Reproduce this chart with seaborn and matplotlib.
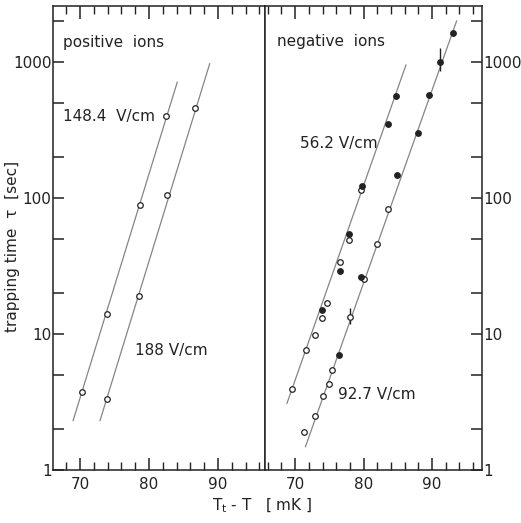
import matplotlib
matplotlib.use("Agg")
import matplotlib.pyplot as plt
import matplotlib.ticker as mticker
import seaborn as sns
import pandas as pd

# ---- data ----
pos148_x = [70.3, 73.9, 78.7, 82.5]
pos148_y = [3.75, 14.0, 89.0, 400.0]
pos148_fit_x = [69.0, 84.1]
pos148_fit_y = [2.3, 710.0]

pos188_x = [73.9, 78.6, 82.6, 86.6]
pos188_y = [3.3, 19.0, 105.0, 460.0]
pos188_fit_x = [72.9, 88.8]
pos188_fit_y = [2.3, 970.0]

neg56_open_x = [69.6, 71.6, 72.9, 73.9, 74.6, 76.6, 77.8, 79.6]
neg56_open_y = [3.96, 7.6, 9.8, 13.1, 16.9, 34.0, 49.0, 114.0]
neg56_fill_x = [73.9, 76.6, 77.8, 79.7, 83.5, 84.7]
neg56_fill_y = [14.9, 29.0, 54.0, 122.0, 350.0, 556.0]
neg56_fit_x = [68.8, 86.2]
neg56_fit_y = [3.08, 950.0]

neg92_open_x = [71.3, 72.9, 74.0, 74.9, 75.4, 78.0, 80.0, 81.9, 83.5]
neg92_open_y = [1.9, 2.5, 3.5, 4.26, 5.4, 13.3, 25.5, 46.0, 83.0]
neg92_fill_x = [76.4, 79.6, 84.9, 87.9, 89.5, 91.1, 93.0]
neg92_fill_y = [7.0, 26.0, 147.0, 302.0, 572.0, 1000.0, 1640.0]
neg92_fit_x = [71.5, 93.6]
neg92_fit_y = [1.48, 2000.0]

err_x = [78.0, 91.1]
err_lo = [11.9, 850.0]
err_hi = [15.6, 1260.0]

y_ticks = [1, 10, 100, 1000]
y_ticklabels = ["1", "10", "100", "1000"]
x_ticks = [70, 80, 90]
x_ticklabels = ["70", "80", "90"]

# ---- styling ----
sns.set_style("ticks")
plt.rcParams['font.family'] = ['DejaVu Sans']
INK = "#222222"
LINE = "#858585"
FS = 11

W, H = 521, 523
fig = plt.figure(figsize=(W / 100, H / 100), dpi=100)
x0, xm, x1 = 53 / W, 265 / W, 482 / W
y0, y1 = 1 - 470 / H, 1 - 6 / H
axL = fig.add_axes([x0, y0, xm - x0, y1 - y0])
axR = fig.add_axes([xm, y0, x1 - xm, y1 - y0])


def fit(ax, xs, ys):
    sns.lineplot(x=xs, y=ys, ax=ax, color=LINE, lw=0.9, legend=False)


def pts(ax, xs, ys, filled):
    sns.scatterplot(x=xs, y=ys, ax=ax, s=16, marker="o",
                    facecolor=INK if filled else "white",
                    edgecolor=INK, linewidth=0.9, legend=False, zorder=3)


fit(axL, pos148_fit_x, pos148_fit_y)
fit(axL, pos188_fit_x, pos188_fit_y)
pts(axL, pos148_x, pos148_y, False)
pts(axL, pos188_x, pos188_y, False)

fit(axR, neg56_fit_x, neg56_fit_y)
fit(axR, neg92_fit_x, neg92_fit_y)
pts(axR, neg56_open_x, neg56_open_y, False)
pts(axR, neg56_fill_x, neg56_fill_y, True)
pts(axR, neg92_open_x, neg92_open_y, False)
pts(axR, neg92_fill_x, neg92_fill_y, True)
axR.vlines(err_x, err_lo, err_hi, color=INK, lw=1.0, zorder=2)

for ax, xl in ((axL, (66.1, 96.8)), (axR, (65.6, 97.3))):
    ax.set_yscale("log")
    ax.set_ylim(1, 2570)
    ax.set_xlim(*xl)
    for s in ax.spines.values():
        s.set_color(INK)
        s.set_linewidth(1.1)
    ax.set_xticks(x_ticks)
    ax.set_xticklabels(x_ticklabels, fontsize=FS, color=INK)
    ax.xaxis.set_minor_locator(mticker.MultipleLocator(2))
    ax.set_yticks(y_ticks)
    ax.yaxis.set_minor_locator(mticker.LogLocator(base=10, subs=(2, 5)))
    ax.yaxis.set_minor_formatter(mticker.NullFormatter())
    ax.tick_params(axis="x", which="both", direction="in", top=True,
                   bottom=True, color=INK, pad=5)
    ax.tick_params(axis="x", which="major", length=9, width=1.1)
    ax.tick_params(axis="x", which="minor", length=6, width=1.0)
    ax.tick_params(axis="y", which="both", direction="in", length=8,
                   width=1.1, color=INK, pad=1)
    ax.set_xlabel("")
    ax.set_ylabel("")

axL.set_yticklabels(y_ticklabels, fontsize=FS, color=INK)
axL.tick_params(axis="y", which="both", left=True, right=False)
axR.yaxis.tick_right()
axR.set_yticklabels(y_ticklabels, fontsize=FS, color=INK)
axR.tick_params(axis="y", which="both", left=False, right=True)

axL.text(67.5, 1380, "positive  ions", fontsize=11, color=INK, va="center")
axL.text(67.5, 394, "148.4  V/cm", fontsize=11, color=INK, va="center")
axL.text(78.0, 7.5, "188 V/cm", fontsize=11, color=INK, va="center")
axR.text(67.3, 1400, "negative  ions", fontsize=11, color=INK, va="center")
axR.text(70.7, 250, "56.2 V/cm", fontsize=11, color=INK, va="center")
axR.text(76.2, 3.56, "92.7 V/cm", fontsize=11, color=INK, va="center")

fig.text(13 / W, 1 - 246 / H, "trapping time  τ  [sec]", rotation=90,
         fontsize=11, color=INK, ha="center", va="center")
fig.text(262 / W, 1 - 497 / H, r"T$_\mathrm{t}$ - T   [ mK ]",
         fontsize=11, color=INK, ha="center", va="top")

fig.savefig("out.png", dpi=100, facecolor="white")
